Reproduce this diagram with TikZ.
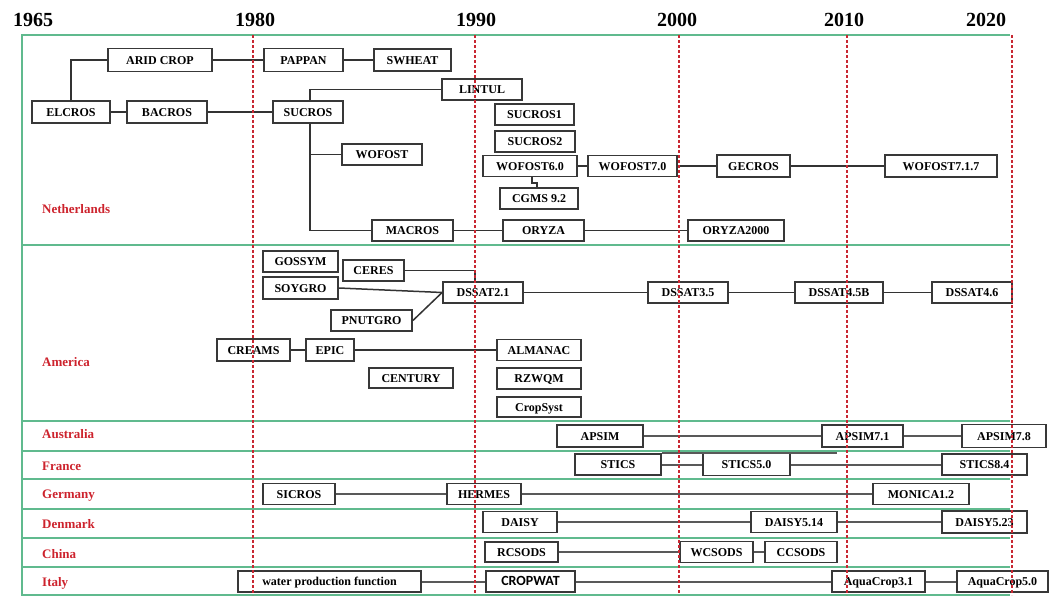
\documentclass[tikz,border=0pt]{standalone}
\usepackage{fontspec}
\setmainfont{Liberation Serif}
\newfontfamily\cropfont{Carlito}
\definecolor{framegreen}{RGB}{96,186,142}
\definecolor{gridred}{RGB}{200,40,50}
\definecolor{labred}{RGB}{205,35,45}
\tikzset{
  box/.style={draw=black!78, line width=1.8pt, fill=white, inner sep=0pt,
    text height=8.6pt, text depth=0pt,
    font=\bfseries\fontsize{12}{14}\selectfont},
  link/.style={draw=black!80, line width=1.5pt},
  linkb/.style={draw=black!65, line width=2pt},
  frameline/.style={draw=framegreen, line width=2.5pt},
  rdash/.style={draw=gridred, line width=1.3pt, dash pattern=on 3pt off 2pt},
  year/.style={font=\bfseries\fontsize{20}{22}\selectfont},
  ctry/.style={anchor=west, text=labred, inner sep=0pt, font=\bfseries\fontsize{13}{15}\selectfont}
}
\newcommand{\mkbox}[6]{\node[box, minimum width=#4pt, minimum height=#5pt] (#1) at (#2,#3) {#6};}
\begin{document}
\begin{tikzpicture}[x=1pt,y=-1pt]
\useasboundingbox (0,0) rectangle (1051,597);
% frame and rows
\draw[frameline] (1010,35) -- (22,35) -- (22,595) -- (1010,595);
\foreach \yy in {245,421,451,479,509,538,567} {\draw[frameline] (22,\yy) -- (1010,\yy);}
% years
\node[year] (y1965) at (33,20) {1965};
\node[year] (y1980) at (255,20) {1980};
\node[year] (y1990) at (476,20) {1990};
\node[year] (y2000) at (677,20) {2000};
\node[year] (y2010) at (844,20) {2010};
\node[year] (y2020) at (986,20) {2020};
% countries
\node[ctry] (nl) at (42,209) {Netherlands};
\node[ctry] (am) at (42,362) {America};
\node[ctry] (au) at (42,434) {Australia};
\node[ctry] (fr) at (42,466) {France};
\node[ctry] (ge) at (42,496) {Germany};
\node[ctry] (dk) at (42,524) {Denmark};
\node[ctry] (cn) at (42,554) {China};
\node[ctry] (it) at (42,583) {Italy};
% helper coordinates
\coordinate (t) at (310,0);
\coordinate (d90) at (475,0);
\coordinate (stk) at (837,451);
\coordinate (zz) at (537,183);
% boxes: Netherlands
\mkbox{ELCROS}{71}{112}{78}{22}{ELCROS}
\mkbox{ARIDCROP}{160}{60}{104}{23}{ARID CROP}
\mkbox{BACROS}{167}{112}{80}{22}{BACROS}
\mkbox{PAPPAN}{303.5}{60}{79}{23}{PAPPAN}
\mkbox{SWHEAT}{412.5}{60}{77}{22}{SWHEAT}
\mkbox{SUCROS}{308}{112}{70}{22}{SUCROS}
\mkbox{LINTUL}{482}{89.5}{80}{21}{LINTUL}
\mkbox{SUCROSa}{534.5}{114.5}{79}{21}{SUCROS1}
\mkbox{SUCROSb}{535}{141.5}{80}{21}{SUCROS2}
\mkbox{WOFOST}{382}{154.5}{80}{21}{WOFOST}
\mkbox{WOFOSTsix}{530}{166}{94}{21}{WOFOST6.0}
\mkbox{WOFOSTseven}{632.5}{166}{89}{21}{WOFOST7.0}
\mkbox{GECROS}{753.5}{166}{73}{22}{GECROS}
\mkbox{WOFOSTlast}{941}{166}{112}{22}{WOFOST7.1.7}
\mkbox{CGMS}{539}{198.5}{78}{21}{CGMS 9.2}
\mkbox{MACROS}{412.5}{230.5}{81}{21}{MACROS}
\mkbox{ORYZA}{543.5}{230.5}{81}{21}{ORYZA}
\mkbox{ORYZAk}{736}{230.5}{96}{21}{ORYZA2000}
% boxes: America
\mkbox{GOSSYM}{300.5}{261.5}{75}{21}{GOSSYM}
\mkbox{CERES}{373.5}{270.5}{61}{21}{CERES}
\mkbox{SOYGRO}{300.5}{288}{75}{22}{SOYGRO}
\mkbox{DSSATa}{483}{292.5}{80}{21}{DSSAT2.1}
\mkbox{PNUTGRO}{371.5}{320.5}{81}{21}{PNUTGRO}
\mkbox{DSSATb}{688}{292.5}{80}{21}{DSSAT3.5}
\mkbox{DSSATc}{839}{292.5}{88}{21}{DSSAT4.5B}
\mkbox{DSSATd}{972}{292.5}{80}{21}{DSSAT4.6}
\mkbox{CREAMS}{253.5}{350}{73}{22}{CREAMS}
\mkbox{EPIC}{330}{350}{48}{22}{EPIC}
\mkbox{ALMANAC}{539}{350}{84}{21}{ALMANAC}
\mkbox{CENTURY}{411}{378}{84}{20}{CENTURY}
\mkbox{RZWQM}{539}{378.5}{84}{21}{RZWQM}
\mkbox{CropSyst}{539}{407}{84}{20}{CropSyst}
% Australia
\mkbox{APSIM}{600}{436}{86}{22}{APSIM}
\mkbox{APSIMa}{862.5}{436}{81}{22}{APSIM7.1}
\mkbox{APSIMb}{1004}{436}{84}{23}{APSIM7.8}
% France
\mkbox{STICS}{618}{464.5}{86}{21}{STICS}
\mkbox{STICSa}{746.5}{464.5}{87}{22}{STICS5.0}
\mkbox{STICSb}{984.5}{464.5}{85}{21}{STICS8.4}
% Germany
\mkbox{SICROS}{299}{494}{72}{21}{SICROS}
\mkbox{HERMES}{484}{494}{74}{21}{HERMES}
\mkbox{MONICA}{921}{494}{96}{21}{MONICA1.2}
% Denmark
\mkbox{DAISY}{520}{522}{74}{21}{DAISY}
\mkbox{DAISYa}{794}{522}{86}{21}{DAISY5.14}
\mkbox{DAISYb}{984.5}{522}{85}{22}{DAISY5.23}
% China
\mkbox{RCSODS}{521.5}{552}{73}{20}{RCSODS}
\mkbox{WCSODS}{716.5}{552}{73}{21}{WCSODS}
\mkbox{CCSODS}{801}{552}{72}{21}{CCSODS}
% Italy
\mkbox{WPF}{329.5}{581.5}{183}{21}{water production function}
\node[box, minimum width=89pt, minimum height=21pt, font=\cropfont\bfseries\fontsize{14}{16}\selectfont] (CROPWAT) at (530.5,581.5) {CROPWAT};
\mkbox{AQa}{878.5}{581.5}{93}{21}{AquaCrop3.1}
\mkbox{AQb}{1002.5}{581.5}{91}{21}{AquaCrop5.0}
% connectors: Netherlands
\draw[link] (ELCROS.north) |- (ARIDCROP.west);
\draw[link] (ELCROS.east) -- (BACROS.west);
\draw[link] (BACROS.east) -- (SUCROS.west);
\draw[link] (ARIDCROP.east) -- (PAPPAN.west);
\draw[link] (PAPPAN.east) -- (SWHEAT.west);
\draw[link] (LINTUL.west) -| (t |- SUCROS.north);
\draw[link] (SUCROS.south -| t) |- (MACROS.west);
\draw[link] (WOFOST.west) -- (WOFOST.west -| t);
\draw[link] (WOFOSTsix.east) -- (WOFOSTseven.west);
\draw[link] (WOFOSTseven.east) -- (GECROS.west);
\draw[link] (GECROS.east) -- (WOFOSTlast.west);
\draw[link] ([xshift=2pt]WOFOSTsix.south) |- (zz) -- (zz |- CGMS.north);
\draw[link] (MACROS.east) -- (ORYZA.west);
\draw[link] (ORYZA.east) -- (ORYZAk.west);
% connectors: America
\draw[link] (CERES.east) -| (d90 |- DSSATa.north);
\draw[link] (SOYGRO.east) -- (DSSATa.west);
\draw[link] (PNUTGRO.east) -- (DSSATa.west);
\draw[link] (DSSATa.east) -- (DSSATb.west);
\draw[link] (DSSATb.east) -- (DSSATc.west);
\draw[link] (DSSATc.east) -- (DSSATd.west);
\draw[link] (CREAMS.east) -- (EPIC.west);
\draw[link] (EPIC.east) -- (ALMANAC.west);
% connectors: lower rows
\draw[linkb] (APSIM.east) -- (APSIMa.west);
\draw[linkb] (APSIMa.east) -- (APSIMb.west);
\draw[linkb] (STICS.north east) -- (STICS.north east -| stk);
\draw[linkb] (STICS.east) -- (STICSa.west);
\draw[linkb] (STICSa.east) -- (STICSb.west);
\draw[linkb] (SICROS.east) -- (HERMES.west);
\draw[linkb] (HERMES.east) -- (MONICA.west);
\draw[linkb] (DAISY.east) -- (DAISYa.west);
\draw[linkb] (DAISYa.east) -- (DAISYb.west);
\draw[linkb] (RCSODS.east) -- (WCSODS.west);
\draw[linkb] (WCSODS.east) -- (CCSODS.west);
\draw[linkb] (WPF.east) -- (CROPWAT.west);
\draw[linkb] (CROPWAT.east) -- (AQa.west);
\draw[linkb] (AQa.east) -- (AQb.west);
% red dashed year lines
\foreach \xx in {253,475,679,847,1012} {\draw[rdash] (\xx,35) -- (\xx,595);}
\end{tikzpicture}
\end{document}
